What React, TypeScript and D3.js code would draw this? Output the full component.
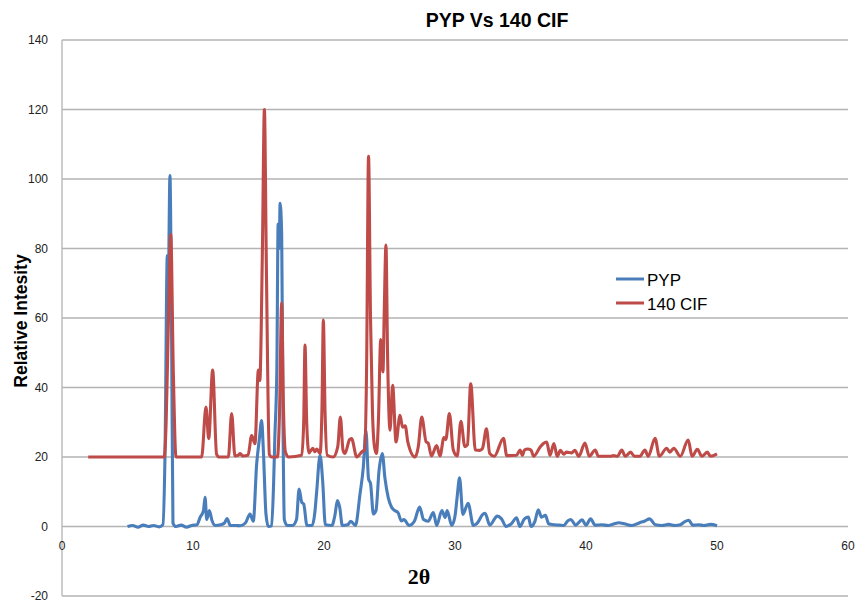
import React from 'react';
import * as d3 from 'd3';

// PYP pattern (2θ, intensity)
const pypTheta = [
  5.0, 5.4, 5.8, 6.2, 6.6, 7.0, 7.4, 7.7, 7.86, 8.04, 8.12, 8.24, 8.37, 8.47, 8.7, 9.1, 9.5, 9.9,
  10.3, 10.55, 10.8, 10.92, 11.05, 11.25, 11.45, 11.7, 12.1, 12.4, 12.6, 12.85, 13.3, 13.6, 14.0,
  14.35, 14.6, 14.86, 15.06, 15.24, 15.37, 15.57, 15.75, 16.0, 16.15, 16.25, 16.4, 16.5, 16.58,
  16.65, 16.77, 16.87, 16.97, 17.2, 17.6, 17.9, 18.1, 18.3, 18.45, 18.7, 19.1, 19.3, 19.44, 19.7,
  19.9, 20.1, 20.6, 20.85, 21.02, 21.2, 21.4, 21.8, 22.05, 22.4, 22.75, 23.0, 23.2, 23.4, 23.55,
  23.77, 23.97, 24.2, 24.45, 24.65, 24.9, 25.15, 25.4, 25.65, 25.9, 26.1, 26.5, 26.9, 27.3, 27.6,
  27.95, 28.35, 28.6, 29.0, 29.25, 29.4, 29.75, 30.0, 30.15, 30.35, 30.6, 31.0, 31.4, 31.7, 32.15,
  32.3, 32.65, 33.23, 33.55, 33.9, 34.3, 34.7, 34.95, 35.3, 35.6, 35.8, 36.1, 36.36, 36.6, 36.9,
  37.15, 37.4, 38.0, 38.3, 38.6, 38.85, 39.2, 39.7, 40.0, 40.35, 40.7, 41.2, 41.7, 42.1, 42.5,
  43.0, 43.5, 44.1, 44.5, 44.85, 45.3, 45.8, 46.3, 46.8, 47.2, 47.5, 47.85, 48.15, 48.6, 49.0,
  49.5, 50.0,
];
const pypIntensity = [
  0, 0.3, -0.2, 0.4, 0, 0.3, -0.1, 0.5, 20, 78, 72, 101, 53, 1, 0, 0.4, -0.2, 0.3,
  0.5, 2.7, 4.6, 8.4, 2, 4.6, 1.7, 0.3, 0.5, 1, 2.3, 0.3, 0.3, 0.2, 1,
  3.6, 1.5, 18, 25, 30.5, 22, 3.6, 0, 0.2, 12, 26, 45, 87, 80,
  93, 84, 30, 2, 0.3, 0.3, 2, 10.8, 7, 6.5, 0.3, 0.3, 4, 10, 20.5,
  13, 0.5, 0.3, 3.6, 7.5, 5.5, 0.3, 0.5, 1.5, 0.3, 9.4, 17, 27.7, 13.7, 12.4,
  3.6, 4.6, 16, 21, 14, 8.4, 5.6, 4.6, 4, 1.6, 2, 0.3, 1.5, 5.6, 2,
  1.5, 4, 0.3, 4.6, 2.6, 4.6, 0.3, 3, 8, 14, 3.5, 6.7, 0.3, 1, 3.6,
  3.8, 0.4, 3, 2.2, 0, 0.8, 2.5, 0, 2.2, 2.7, 0, 1.5, 4.8, 2.7, 3.2,
  0.8, 0.6, 0.4, 0.3, 1.6, 2, 0.4, 1.9, 0.4, 2.2, 0.4, 0.5, 0.3, 0.7, 1.1,
  0.7, 0.3, 1.1, 1.6, 2.2, 0.5, 0.3, 0.6, 0.3, 0.5, 1.3, 1.8, 0.4, 0.5, 0.3,
  0.6, 0.2,
];

// 140 CIF pattern (offset by 20 in the original)
const cifTheta = [
  2.0, 7.8, 7.95, 8.1, 8.3, 8.5, 8.7, 10.66, 10.99, 11.2, 11.5, 11.8, 12.0, 12.7, 12.95, 13.2,
  13.45, 13.6, 13.8, 14.2, 14.48, 14.73, 14.99, 15.1, 15.3, 15.45, 15.6, 15.83, 16.0, 16.45, 16.6,
  16.77, 16.9, 17.05, 17.3, 18.3, 18.45, 18.55, 18.68, 18.85, 19.15, 19.3, 19.45, 19.7, 19.85,
  19.95, 20.08, 20.25, 20.7, 21.05, 21.25, 21.45, 21.6, 21.95, 22.1, 22.5, 22.9, 23.1, 23.25, 23.4,
  23.55, 23.7, 23.85, 24.0, 24.15, 24.33, 24.5, 24.6, 24.73, 24.85, 25.04, 25.24, 25.5, 25.8, 26.0,
  26.2, 26.4, 26.95, 27.2, 27.46, 27.8, 27.95, 28.2, 28.6, 28.85, 29.16, 29.3, 29.57, 29.87, 30.17,
  30.45, 30.75, 30.95, 31.2, 31.55, 31.9, 32.1, 32.4, 32.65, 33.0, 33.7, 33.95, 34.7, 34.96, 35.15,
  35.3, 35.55, 35.8, 36.0, 36.5, 36.75, 37.0, 37.25, 37.55, 37.8, 38.05, 38.3, 38.5, 38.9, 39.15,
  39.45, 39.92, 40.25, 40.7, 40.95, 41.85, 42.1, 42.4, 42.73, 43.0, 43.4, 43.7, 44.1, 44.5, 44.75,
  45.27, 45.6, 46.16, 46.4, 46.7, 47.2, 47.8, 48.1, 48.5, 48.85, 49.26, 49.5, 50.0,
];
const cifIntensity = [
  20, 20, 30, 55, 84, 44, 20, 20, 34.4, 25.3, 45, 20.8, 20, 20, 32.5, 20.3,
  20.5, 21, 20.3, 20.5, 26.2, 23.8, 45, 42, 80, 120, 75, 20.7, 20, 20, 32,
  64.4, 35, 21.5, 20, 20.5, 30, 52.2, 30, 21.2, 22.5, 21.5, 22.3, 21, 35,
  59.4, 33, 20.5, 20, 23, 31.5, 22, 21, 25, 25.3, 20, 21.5, 22, 45, 106.5,
  60, 33, 23, 21, 30, 53.8, 44.5, 62, 81, 50, 27.7, 40.6, 24.3, 32, 28.6,
  29, 24.3, 20, 23, 31.5, 24.3, 24, 20.3, 23.3, 20.3, 25.6, 25, 32.5, 22, 20.3,
  30.3, 23, 23.5, 41.1, 22, 21.9, 22.5, 28.1, 21, 20.2, 25.4, 20.4, 20.5, 22, 20.5,
  22, 22.3, 22, 20.2, 22.9, 23.9, 24.3, 20.5, 23.9, 20.2, 21.9, 20.8, 21.4, 21.2, 21.9,
  20.2, 24, 20.2, 22, 20.2, 20.2, 20.4, 20.2, 22, 20.2, 21.4, 20.2, 20.2, 22, 20.2,
  25.4, 20.2, 22.5, 21.4, 22.5, 20.2, 24.9, 20.2, 22.2, 20.2, 21.4, 20.2, 20.9,
];

const xTicks = [0, 10, 20, 30, 40, 50, 60];
const yTicks = [-20, 0, 20, 40, 60, 80, 100, 120, 140];
const seriesNames = ['PYP', '140 CIF'];

const W = 858;
const H = 602;
const BLUE = '#4a7ebb';
const RED = '#be4b48';
const GRID = '#b3b3b3';
const FONT = '"Liberation Sans", Arial, sans-serif';

export default function App() {
  const x = d3.scaleLinear().domain([0, 60]).range([62, 848]);
  const y = d3.scaleLinear().domain([-20, 140]).range([596, 40]);

  const pyp = pypTheta.map((t, i) => [t, pypIntensity[i]] as [number, number]);
  const cif = cifTheta.map((t, i) => [t, cifIntensity[i]] as [number, number]);

  const lineGen = d3
    .line<[number, number]>()
    .x(d => x(d[0]))
    .y(d => y(d[1]))
    .curve(d3.curveMonotoneX);

  return (
    <svg
      width={W}
      height={H}
      style={{ position: 'absolute', left: 0, top: 0, background: '#fff' }}
    >
      {/* gridlines */}
      {yTicks.filter(t => t !== 0).map(t => (
        <line key={t} x1={x(0)} x2={x(60)} y1={y(t)} y2={y(t)} stroke={GRID} strokeWidth={1.3} />
      ))}
      {/* axes */}
      <line x1={x(0)} x2={x(0)} y1={y(140)} y2={y(-20)} stroke={GRID} strokeWidth={1.3} />
      <line x1={x(0)} x2={x(60)} y1={y(0)} y2={y(0)} stroke={GRID} strokeWidth={1.3} />

      {yTicks.map(t => (
        <text key={t} x={48} y={y(t) + 4} textAnchor="end" fontFamily={FONT} fontSize={12} fill="#222">
          {t}
        </text>
      ))}
      {xTicks.map(t => (
        <text key={t} x={x(t)} y={550} textAnchor="middle" fontFamily={FONT} fontSize={12} fill="#222">
          {t}
        </text>
      ))}

      <path d={lineGen(pyp) || ''} fill="none" stroke={BLUE} strokeWidth={3.1} strokeLinejoin="round" />
      <path d={lineGen(cif) || ''} fill="none" stroke={RED} strokeWidth={3.1} strokeLinejoin="round" />

      {/* titles */}
      <text x={497} y={27} textAnchor="middle" fontFamily={FONT} fontWeight="bold" fontSize={19.5} fill="#000">
        PYP Vs 140 CIF
      </text>
      <text
        transform="translate(27,321) rotate(-90)"
        textAnchor="middle"
        fontFamily={FONT}
        fontWeight="bold"
        fontSize={17.5}
        fill="#000"
      >
        Relative Intesity
      </text>
      <text x={419} y={584} textAnchor="middle" fontFamily='"Liberation Serif", "Times New Roman", serif' fontWeight="bold" fontSize={22} fill="#000">
        2θ
      </text>

      {/* legend */}
      {seriesNames.map((name, i) => (
        <g key={name} transform={`translate(616,${279 + i * 24})`}>
          <line x1={0} x2={28} y1={0} y2={0} stroke={i === 0 ? BLUE : RED} strokeWidth={3} />
          <text x={31} y={7} fontFamily={FONT} fontSize={17} fill="#000">
            {name}
          </text>
        </g>
      ))}
    </svg>
  );
}
